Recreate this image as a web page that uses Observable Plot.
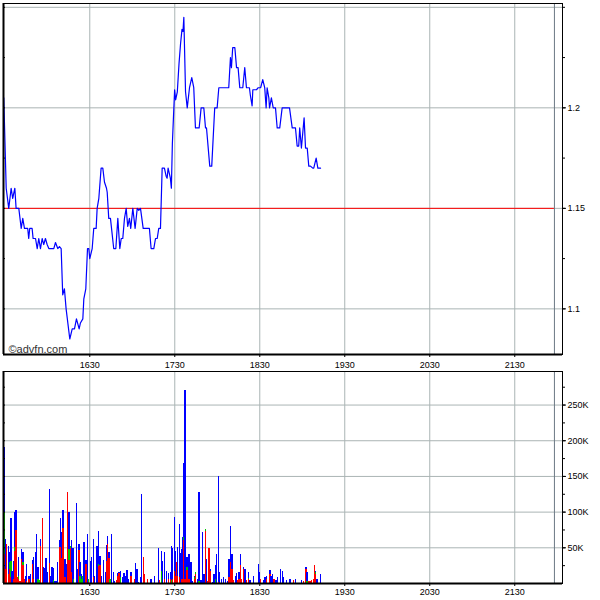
<!DOCTYPE html>
<html><head><meta charset="utf-8">
<script src="https://cdn.jsdelivr.net/npm/d3@7"></script>
<script src="https://cdn.jsdelivr.net/npm/@observablehq/plot@0.6"></script>
<style>
body{margin:0;background:#fff;}
#chart svg{display:block;}
</style></head><body><div id="chart"></div>
<script>
// ---- price data (time "HH:MM.f", price) ----
const priceTimes = [
"15:29.3","15:31.0","15:32.8","15:34.5","15:35.6","15:37.1","15:38.0","15:39.9","15:41.6","15:42.7",
"15:43.9","15:46.2","15:46.9","15:47.6","15:49.3","15:50.0","15:51.7","15:52.9","15:54.0","15:55.2",
"15:56.4","15:57.5","15:58.7","15:59.9","16:01.1","16:04.6","16:05.8","16:07.4","16:08.6","16:09.8",
"16:10.9","16:12.1","16:13.3","16:15.9","16:17.6","16:19.2","16:20.6","16:22.5","16:23.4","16:25.1",
"16:25.8","16:27.2","16:28.4","16:29.3","16:30.0","16:31.7","16:32.8","16:34.5","16:35.2","16:36.4",
"16:38.0","16:39.2","16:40.4","16:41.8","16:42.3","16:43.4","16:44.6","16:46.9","16:48.4","16:49.8",
"16:51.2","16:52.2","16:53.3","16:54.5","16:55.7","16:56.8","16:58.0","16:58.9","17:00.4","17:02.0",
"17:03.5","17:04.6","17:05.8","17:07.7","17:12.1","17:13.3","17:15.2","17:16.4","17:17.6","17:18.7",
"17:19.9","17:21.1","17:22.7","17:23.9","17:24.6","17:25.3","17:26.9","17:27.6","17:28.3","17:29.0",
"17:29.9","17:30.6","17:31.8","17:33.0","17:34.1","17:35.1","17:35.8","17:36.4","17:37.6","17:38.8",
"17:40.4","17:42.0","17:43.4","17:44.6","17:47.2","17:48.6","17:50.5","17:51.7","17:52.4","17:54.7",
"17:56.1","17:58.2","17:59.9","18:01.1","18:08.1","18:09.3","18:10.0","18:10.9","18:12.4","18:13.6",
"18:14.7","18:15.9","18:18.0","18:19.4","18:20.6","18:22.7","18:23.4","18:24.6","18:25.1","18:27.7",
"18:28.9","18:30.6","18:32.1","18:33.5","18:34.5","18:35.2","18:36.4","18:36.9","18:38.2","18:39.5",
"18:41.1","18:42.3","18:44.1","18:45.8","18:51.0","18:52.9","18:55.2","18:56.4","18:57.5","18:58.2",
"18:59.4","19:01.3","19:02.3","19:03.5","19:04.6","19:05.8","19:07.4","19:08.1","19:09.8","19:11.0","19:12.9"
];
const prices = [
1.205,1.16,1.15,1.16,1.155,1.16,1.15,1.15,1.14,1.145,
1.14,1.14,1.135,1.14,1.14,1.135,1.135,1.13,1.135,1.13,
1.135,1.132,1.135,1.132,1.13,1.13,1.133,1.13,1.131,1.13,
1.107,1.11,1.10,1.085,1.09,1.09,1.095,1.09,1.093,1.095,
1.105,1.11,1.13,1.13,1.125,1.13,1.14,1.14,1.15,1.155,
1.17,1.17,1.163,1.16,1.158,1.145,1.145,1.13,1.13,1.145,
1.13,1.135,1.135,1.145,1.15,1.141,1.145,1.14,1.15,1.14,
1.15,1.149,1.15,1.14,1.14,1.13,1.13,1.135,1.135,1.14,
1.14,1.17,1.17,1.166,1.165,1.17,1.165,1.16,1.182,1.194,
1.209,1.204,1.208,1.222,1.232,1.239,1.238,1.245,1.208,1.20,
1.21,1.215,1.21,1.19,1.19,1.20,1.20,1.19,1.19,1.171,
1.171,1.20,1.20,1.21,1.21,1.225,1.22,1.23,1.23,1.22,
1.22,1.21,1.21,1.22,1.21,1.21,1.206,1.201,1.209,1.209,
1.21,1.21,1.214,1.21,1.20,1.21,1.205,1.20,1.205,1.20,
1.20,1.19,1.19,1.20,1.20,1.19,1.19,1.181,1.181,1.19,
1.18,1.195,1.18,1.18,1.171,1.171,1.17,1.17,1.175,1.17,1.17
];
const prevClose = 1.15;

// ---- volume data (thousands of shares), stacked red / green / blue ----
const volTimes = [
"15:29.8","15:31.0","15:31.7","15:32.8","15:33.5","15:34.7","15:35.6","15:36.4","15:37.6","15:38.3",
"15:39.2","15:39.9","15:41.1","15:42.0","15:43.2","15:43.9","15:44.8","15:45.5","15:46.9","15:47.6",
"15:48.6","15:49.8","15:50.5","15:51.9","15:52.6","15:53.8","15:54.7","15:55.4","15:56.8","15:57.5",
"15:58.5","15:59.6","16:00.4","16:01.8","16:02.8","16:03.7","16:04.6","16:05.8","16:06.5","16:07.4",
"16:08.8","16:09.5","16:10.5","16:11.4","16:12.8","16:13.8","16:14.5","16:15.7","16:16.6","16:17.6",
"16:18.3","16:19.0","16:20.8","16:21.5","16:22.7","16:23.4","16:24.4","16:25.3","16:26.3","16:27.7",
"16:28.6","16:29.6","16:30.7","16:31.7","16:32.8","16:33.8","16:34.9","16:35.6","16:36.6","16:37.6",
"16:38.5","16:39.9","16:41.3","16:42.3","16:43.0","16:43.9","16:44.6","16:45.5","16:46.9","16:47.7",
"16:49.3","16:50.0","16:50.9","16:52.2","16:53.6","16:54.5","16:55.7","16:56.6","16:57.5","16:59.4",
"17:01.8","17:02.5","17:03.7","17:04.9","17:06.0","17:06.7","17:08.1","17:08.8","17:10.9","17:13.6",
"17:15.9","17:18.7","17:19.4","17:21.1","17:21.8","17:22.9","17:24.6","17:25.8","17:27.5","17:28.2",
"17:28.9","17:30.0","17:30.7","17:31.7","17:32.4","17:33.5","17:34.7","17:35.6","17:36.3","17:37.0",
"17:37.7","17:38.9","17:40.4","17:41.8","17:42.7","17:44.1","17:45.1","17:46.2","17:46.9","17:47.6",
"17:48.8","17:49.8","17:51.0","17:51.9","17:52.6","17:53.6","17:54.5","17:55.7","17:56.8","17:58.0",
"17:58.9","17:59.9","18:01.1","18:01.8","18:03.2","18:04.6","18:06.3","18:07.4","18:08.6","18:09.8",
"18:10.7","18:11.7","18:13.1","18:13.8","18:15.0","18:15.7","18:16.6","18:17.6","18:19.0","18:19.9",
"18:21.1","18:22.2","18:23.4","18:25.8","18:29.3","18:30.0","18:31.0","18:32.8","18:34.0","18:35.2",
"18:37.6","18:38.3","18:39.5","18:40.4","18:41.8","18:42.7","18:45.1","18:46.2","18:46.9","18:49.3",
"18:51.7","18:54.0","18:55.7","18:59.9","19:01.1","19:03.0","19:03.7","19:04.6","19:05.8","19:07.0",
"19:08.1","19:08.9","19:09.9","19:10.8","19:13.4"
];
const volRed = [
40,20,55,13,20,8,0,5,45,74,
8,5,3,34,25,5,0,3,5,6,
0,27,5,0,0,0,0,52,91,0,
0,0,0,28,0,0,0,0,0,0,
51,51,35,77,9,0,127,32,49,15,
0,0,0,0,46,0,0,0,0,27,
0,2,0,0,8,0,0,0,24,25,
0,0,0,31,54,35,0,0,0,0,
4,10,14,0,0,0,0,0,0,10,
5,0,0,0,0,0,36,12,5,0,
0,0,4,0,0,5,0,5,5,0,
5,17,10,29,10,8,0,5,5,60,
5,18,5,0,0,5,12,0,0,0,
0,0,0,73,0,3,49,17,0,0,
0,0,2,0,0,0,0,0,8,29,
20,4,0,0,4,5,25,5,20,0,
4,5,0,0,0,0,6,0,0,5,
12,0,0,5,0,0,0,0,0,0,
0,4,0,0,3,20,0,3,3,4,
5,25,12,0,0
];
const volGreen = [
60,0,0,0,10,23,0,0,5,0,
0,5,0,0,5,0,0,0,0,0,
0,0,0,0,0,5,4,0,0,0,
0,0,0,0,0,0,4,0,0,0,
0,0,0,0,0,0,0,15,3,0,
0,5,0,0,0,10,5,10,0,0,
0,3,0,0,0,0,0,0,3,0,
0,0,0,0,0,0,6,0,0,0,
0,0,0,8,0,0,0,0,0,0,
0,0,0,0,0,0,0,0,0,0,
0,0,0,17,0,0,0,0,0,4,
0,0,0,0,0,0,0,0,0,5,
0,4,0,0,0,3,4,0,0,3,
0,0,0,2,0,0,0,0,0,0,
5,0,0,0,0,0,0,0,0,0,
0,0,0,0,0,0,0,0,0,0,
0,2,0,0,0,0,0,0,0,0,
0,0,0,0,0,0,0,0,0,0,
0,0,0,0,0,0,3,0,0,0,
0,0,3,0,0
];
const volBlue = [
90,42,0,39,13,60,17,26,50,28,
0,26,0,13,13,0,10,24,3,4,
13,5,32,43,68,18,0,9,0,23,
21,35,15,104,10,23,17,3,3,30,
9,40,36,25,25,26,1,53,0,45,
49,44,112,20,9,20,7,0,57,5,
68,0,31,36,53,10,25,52,46,13,
10,32,15,22,12,9,0,69,16,3,
0,4,2,9,9,14,10,18,5,5,
0,28,20,1,8,124,1,0,0,6,
10,49,0,28,31,38,17,9,11,48,
44,76,35,0,41,75,42,43,59,103,
265,15,35,30,3,2,0,5,64,124,
4,72,13,1,33,0,0,3,2,13,
20,41,148,15,6,8,5,3,26,51,
21,0,10,14,0,10,15,0,3,20,
0,8,4,10,27,15,0,4,8,5,
6,10,13,0,4,8,20,17,8,4,
5,0,5,4,0,3,12,0,0,0,
0,0,2,6,12
];

// ---- axes / ticks ----
const viewStart = "15:29.1", viewEnd = "22:03.7";
const sessionEnd = "21:58";
const hourTicks = ["16:30","17:30","18:30","19:30","20:30","21:30"];
const priceGrid = [1.1, 1.15, 1.2, 1.25];
const priceLabels = [1.1, 1.15, 1.2];
const priceMinor = [1.1, 1.125, 1.15, 1.175, 1.2, 1.225, 1.25];
const volGrid = [50, 100, 150, 200, 250];
const volMinor = [25, 50, 75, 100, 125, 150, 175, 200, 225, 250, 275];

const toMin = s => { const [h, m] = s.split(":"); return +h * 60 + +m; };
const fmtHHMM = m => `${Math.floor(m / 60)}${String(Math.round(m % 60)).padStart(2, "0")}`;
const xDomain = [toMin(viewStart), toMin(viewEnd)];
const endMin = toMin(sessionEnd);
const hourMins = hourTicks.map(toMin);
const font = "'Liberation Sans', Arial, Helvetica, sans-serif";
const gridColor = "#aab4b4";

const priceData = priceTimes.map((t, i) => ({t: toMin(t), p: prices[i]}));

const topPlot = Plot.plot({
  width: 600, height: 371,
  marginTop: 3, marginBottom: 17, marginLeft: 3, marginRight: 38,
  style: {fontFamily: font, fontSize: "9px", background: "white", color: "black"},
  x: {type: "linear", domain: xDomain},
  y: {domain: [1.0773, 1.2519]},
  marks: [
    Plot.ruleY(priceGrid, {stroke: gridColor}),
    Plot.ruleX(hourMins, {stroke: gridColor}),
    Plot.ruleX([endMin], {stroke: "#6c7884"}),
    Plot.ruleY([prevClose], {x1: xDomain[0], x2: endMin, stroke: "#ff0000"}),
    Plot.line(priceData, {x: "t", y: "p", stroke: "#0000ff", strokeWidth: 1.2}),
    Plot.text(["©advfn.com"], {frameAnchor: "bottom-left", dx: 5, dy: -2, fontSize: 11, fill: "#333"}),
    Plot.ruleY(priceMinor, {x1: xDomain[0], x2: xDomain[0] + 1.4, stroke: "black"}),
    Plot.axisY(priceLabels, {anchor: "right", tickSize: 3, tickPadding: 2, tickFormat: d => String(+d.toFixed(3)), label: null}),
    Plot.axisY(priceMinor, {anchor: "right", tickSize: 2, tickFormat: () => "", label: null}),
    Plot.axisX(hourMins, {anchor: "bottom", tickSize: 3, tickPadding: 4, tickFormat: fmtHHMM, label: null}),
    Plot.ruleX([xDomain[0]], {stroke: "black", strokeWidth: 2}),
    Plot.ruleY([1.0773], {stroke: "black", strokeWidth: 2}),
    Plot.frame({stroke: "black"})
  ]
});

const colorOf = {red: "#ff0000", green: "#00c400", blue: "#0000ff"};
const volSegs = [];
volTimes.forEach((t, i) => {
  const m = toMin(t);
  let y0 = 0;
  [["red", volRed[i]], ["green", volGreen[i]], ["blue", volBlue[i]]].forEach(([c, v]) => {
    if (v > 0) { volSegs.push({x1: m - 0.5, x2: m + 0.5, y1: y0, y2: y0 + v, c}); y0 += v; }
  });
});

const botPlot = Plot.plot({
  width: 600, height: 229,
  marginTop: 0, marginBottom: 17, marginLeft: 3, marginRight: 38,
  style: {fontFamily: font, fontSize: "9px", background: "white", color: "black"},
  x: {type: "linear", domain: xDomain},
  y: {domain: [0, 297]},
  marks: [
    Plot.ruleY(volGrid, {stroke: gridColor}),
    Plot.ruleX(hourMins, {stroke: gridColor}),
    Plot.ruleX([endMin], {stroke: "#6c7884"}),
    Plot.rect(volSegs, {x1: "x1", x2: "x2", y1: "y1", y2: "y2", fill: d => colorOf[d.c], shapeRendering: "crispEdges"}),
    Plot.ruleY(volMinor, {x1: xDomain[0], x2: xDomain[0] + 1.4, stroke: "black"}),
    Plot.axisY(volGrid, {anchor: "right", tickSize: 3, tickPadding: 2, tickFormat: d => d + "K", label: null}),
    Plot.axisY(volMinor, {anchor: "right", tickSize: 2, tickFormat: () => "", label: null}),
    Plot.axisX(hourMins, {anchor: "bottom", tickSize: 3, tickPadding: 2, tickFormat: fmtHHMM, label: null}),
    Plot.ruleX([xDomain[0]], {stroke: "black", strokeWidth: 2}),
    Plot.ruleY([0], {stroke: "black", strokeWidth: 2}),
    Plot.frame({stroke: "black"})
  ]
});

const chart = document.getElementById("chart");
chart.appendChild(topPlot);
chart.appendChild(botPlot);
</script>
</body></html>
